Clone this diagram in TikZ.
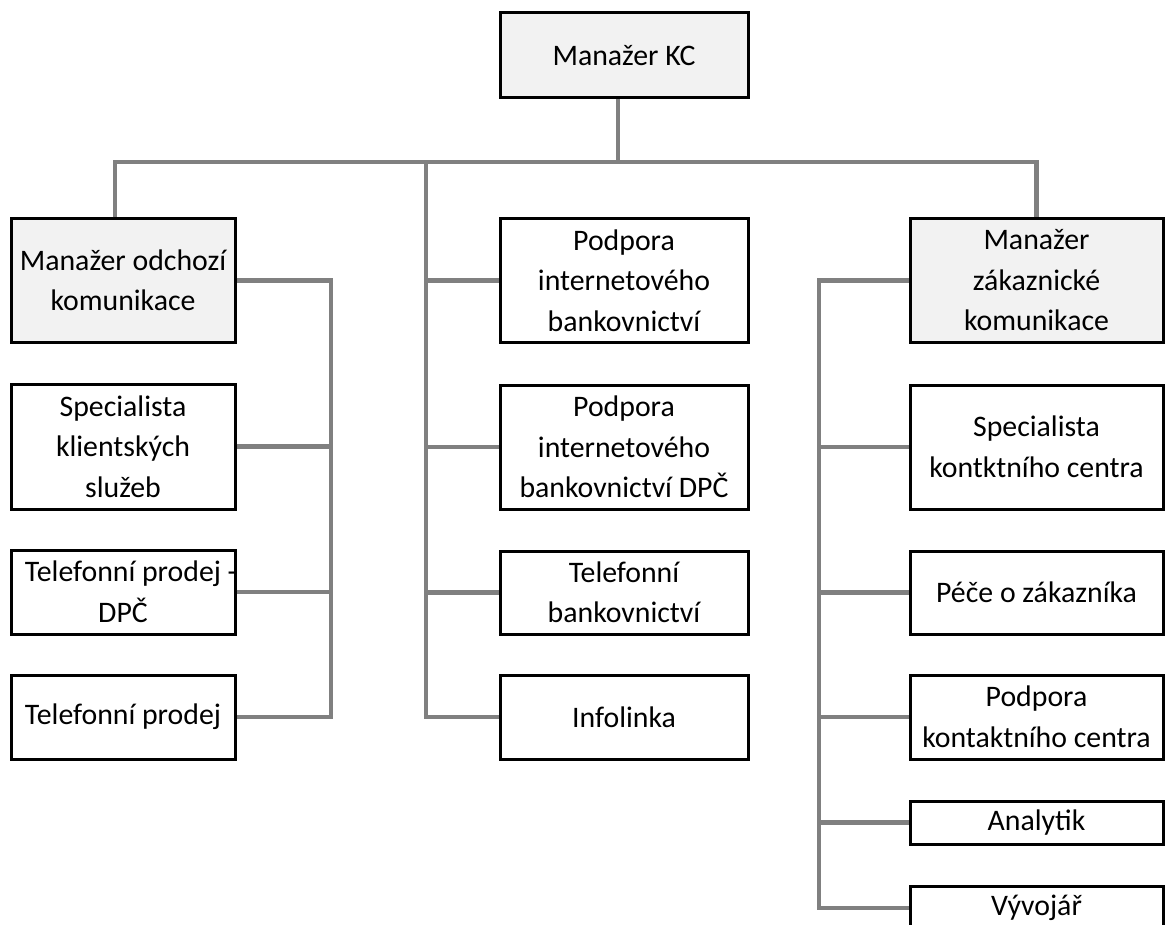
\documentclass[tikz,border=0pt]{standalone}
\usepackage{fontspec}
\setmainfont{Carlito}
\usepackage{tikz}
\usetikzlibrary{positioning}

\definecolor{mgrfill}{HTML}{F2F2F2}
\definecolor{linegray}{HTML}{808080}

\begin{document}
\begin{tikzpicture}[x=1pt, y=-1pt,
  box/.style={draw=black, line width=3pt, fill=white, inner sep=0pt, align=center,
    font=\fontsize{29.8}{40.5}\selectfont},
  mgr/.style={box, fill=mgrfill},
  conn/.style={draw=linegray, line width=4.5pt}]
\useasboundingbox (0,0) rectangle (1166,925);
% top
\node[mgr, minimum width=248pt, minimum height=85pt] (kc) at (624,55.5) {Manažer KC};
% left column
\node[mgr, minimum width=224pt, minimum height=123pt] (odch) at (123,280.5) {Manažer odchozí\\komunikace};
\node[box, minimum width=224pt, minimum height=125pt] (spec) at (123,446.5) {Specialista\\klientských\\služeb};
\node[box, minimum width=224pt, minimum height=84pt] (tpd) at (123,592) {Telefonní prodej\rlap{ -}\\DPČ};
\node[box, minimum width=224pt, minimum height=84pt] (tp) at (123,717) {Telefonní prodej};
% middle column
\node[box, minimum width=248pt, minimum height=123pt] (pib) at (624,280.5) {Podpora\\internetového\\bankovnictví};
\node[box, minimum width=248pt, minimum height=124pt] (pibd) at (624,447) {Podpora\\internetového\\bankovnictví DPČ};
\node[box, minimum width=248pt, minimum height=83pt] (tb) at (624,592.5) {Telefonní\\bankovnictví};
\node[box, minimum width=248pt, minimum height=84pt] (info) at (624,717) {Infolinka};
% right column
\node[mgr, minimum width=253pt, minimum height=123pt] (zak) at (1036.5,280.5) {Manažer\\zákaznické\\komunikace};
\node[box, minimum width=253pt, minimum height=124pt] (skc) at (1036.5,447) {Specialista\\kontktního centra};
\node[box, minimum width=253pt, minimum height=83pt] (pece) at (1036.5,592.5) {Péče o zákazníka};
\node[box, minimum width=253pt, minimum height=84pt] (pkc) at (1036.5,717) {Podpora\\kontaktního centra};
\node[box, minimum width=253pt, minimum height=43pt] (anal) at (1036.5,822.5) {Analytik};
\node[box, minimum width=253pt, minimum height=44pt] (vyv) at (1036.5,908) {Vývojář};

\coordinate (bus) at (618,162);
\coordinate (lx) at (331,0);
\coordinate (mx) at (426,0);
\coordinate (rx) at (819,0);

\draw[conn] (kc.south -| bus) -- (bus);
\draw[conn] ([xshift=-8pt]odch.north) |- (bus) -| (zak.north);
\draw[conn] (mx |- bus) |- (info.west);
\draw[conn] (pib.west) -- (pib.west -| mx);
\draw[conn] (pibd.west) -- (pibd.west -| mx);
\draw[conn] (tb.west) -- (tb.west -| mx);
\draw[conn] (odch.east) -| (lx |- tp.east) -- (tp.east);
\draw[conn] (spec.east) -- (spec.east -| lx);
\draw[conn] (tpd.east) -- (tpd.east -| lx);
\draw[conn] (zak.west) -| (rx |- vyv.west) -- (vyv.west);
\draw[conn] (skc.west) -- (skc.west -| rx);
\draw[conn] (pece.west) -- (pece.west -| rx);
\draw[conn] (pkc.west) -- (pkc.west -| rx);
\draw[conn] (anal.west) -- (anal.west -| rx);
\end{tikzpicture}
\end{document}
